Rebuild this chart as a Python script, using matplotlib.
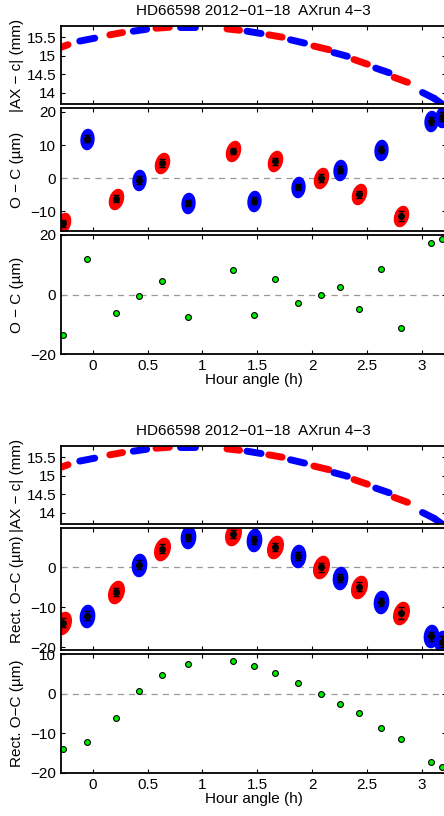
import numpy as np
import matplotlib
matplotlib.use('Agg')
import matplotlib.pyplot as plt
from matplotlib.path import Path

plt.rcParams['font.family'] = ['Liberation Sans', 'DejaVu Sans']
plt.rcParams['font.size'] = 11

TITLE = "HD66598 2012\u221201\u221218  AXrun 4\u22123"

# hour angle of each measurement block, and its colour (red / blue alternate)
hour_angle = [-0.274, -0.049, 0.210, 0.424, 0.631, 0.866, 1.280, 1.470, 1.665,
              1.869, 2.079, 2.256, 2.430, 2.628, 2.808, 3.085, 3.180]
block_col = ['r', 'b', 'r', 'b', 'r', 'b', 'r', 'b', 'r',
             'b', 'r', 'b', 'r', 'b', 'r', 'b', 'b']

# O - C (um) and rectified O - C (um)
oc = [-13.7, 11.9, -6.2, -0.6, 4.6, -7.5, 8.2, -6.8, 5.1,
      -2.7, 0.0, 2.6, -4.9, 8.6, -11.4, 17.3, 18.6]
rect_oc = [-13.9, -12.1, -6.2, 0.6, 4.6, 7.5, 8.2, 6.9, 5.1,
           2.7, 0.0, -2.6, -4.9, -8.7, -11.4, -17.3, -18.6]
oc_err = [1.1, 1.1, 1.1, 1.1, 1.1, 0.9, 1.0, 1.0, 1.0,
          1.0, 1.1, 1.0, 1.1, 1.1, 1.5, 1.1, 1.4]

# |AX - c| (mm) track: start / end of each block
seg_t0 = [-0.293, -0.119, 0.155, 0.369, 0.576, 0.796, 1.223, 1.405, 1.604,
          1.802, 2.015, 2.198, 2.381, 2.579, 2.747, 3.006, 3.113]
seg_t1 = [-0.226, 0.018, 0.271, 0.491, 0.698, 0.933, 1.338, 1.534, 1.726,
          1.930, 2.152, 2.320, 2.503, 2.701, 2.869, 3.113, 3.235]
seg_v0 = [15.225, 15.394, 15.562, 15.660, 15.740, 15.784, 15.722, 15.660, 15.562,
          15.429, 15.260, 15.083, 14.897, 14.666, 14.417, 14.009, 13.850]
seg_v1 = [15.296, 15.473, 15.624, 15.713, 15.766, 15.784, 15.686, 15.598, 15.500,
          15.340, 15.163, 14.985, 14.772, 14.542, 14.284, 13.850, 13.592]

COLS = {'r': '#ff0000', 'b': '#0000ff'}
GREEN = '#00ee00'
XLIM = (-0.29, 3.22)

W, H = 444, 816
fig = plt.figure(figsize=(W / 100, H / 100), dpi=100)


def box(top, bot, left=61, right=446):
    return fig.add_axes([left / W, 1 - bot / H, (right - left) / W, (bot - top) / H])


def style(ax, ylim, yticks, ylabel, xlabels=False):
    ax.set_xlim(*XLIM)
    ax.set_ylim(*ylim)
    ax.set_yticks(yticks)
    ax.set_xticks([0, 0.5, 1, 1.5, 2, 2.5, 3])
    if not xlabels:
        ax.set_xticklabels([])
    else:
        ax.set_xticklabels(['0', '0.5', '1', '1.5', '2', '2.5', '3'])
        ax.set_xlabel('Hour angle (h)', labelpad=0)
    ax.tick_params(direction='in', top=True, right=True, length=3, width=0.8, pad=3.5)
    for s in ax.spines.values():
        s.set_linewidth(1.3)
    ax.set_ylabel(ylabel)
    ax.yaxis.set_label_coords(-0.095, 0.5)


# ellipse marker for the clouds of measurements
th = np.linspace(0, 2 * np.pi, 40)
def blob(angle):
    a = np.deg2rad(angle)
    x, y = 0.64 * np.cos(th), np.sin(th)
    v = np.column_stack([x * np.cos(a) - y * np.sin(a), x * np.sin(a) + y * np.cos(a)])
    return Path(v, closed=True)


def track_panel(ax, title):
    for t0, t1, v0, v1, c in zip(seg_t0, seg_t1, seg_v0, seg_v1, block_col):
        ax.plot([t0, t1], [v0, v1], color=COLS[c], lw=5, solid_capstyle='round')
    style(ax, (13.7, 15.8), [14, 14.5, 15, 15.5], '|AX \u2212 c| (mm)')
    ax.set_yticklabels(['14', '14.5', '15', '15.5'])
    ax.set_title(title, fontsize=11, pad=8)


def cloud_panel(ax, vals, ms):
    ax.axhline(0, color='#999999', lw=0.9, ls=(0, (5, 4)))
    for t, v, c in zip(hour_angle, vals, block_col):
        ang = -18 if c == 'r' else -5
        ax.plot(t, v, marker=blob(ang), ms=ms, color=COLS[c], mec=COLS[c], ls='none')
    ax.errorbar(hour_angle, vals, yerr=oc_err, fmt='o', color='black', ms=4,
                elinewidth=1, capsize=2.5, capthick=1)


def green_panel(ax, vals):
    ax.axhline(0, color='#999999', lw=0.9, ls=(0, (5, 4)))
    ax.errorbar(hour_angle, vals, xerr=0.018, fmt='o', color='black', ms=4.2,
                mfc=GREEN, mec='black', mew=0.8, elinewidth=1, capsize=0, clip_on=False)


# ---- top figure: raw O - C
a1 = box(26, 104)
track_panel(a1, TITLE)
a2 = box(108, 231)
cloud_panel(a2, oc, 14.5)
style(a2, (-16, 21.2), [-10, 0, 10, 20], 'O \u2212 C (\u00b5m)')
a3 = box(235, 354)
green_panel(a3, oc)
style(a3, (-20, 20), [-20, 0, 20], 'O \u2212 C (\u00b5m)', xlabels=True)

# ---- bottom figure: rectified O - C
b1 = box(446, 524)
track_panel(b1, TITLE)
b2 = box(528, 650)
cloud_panel(b2, rect_oc, 16)
style(b2, (-20.7, 9.8), [-20, -10, 0], 'Rect. O\u2212C (\u00b5m)')
b3 = box(654, 773)
green_panel(b3, rect_oc)
style(b3, (-20, 10), [-20, -10, 0, 10], 'Rect. O\u2212C (\u00b5m)', xlabels=True)

fig.savefig('out.png', dpi=100)
